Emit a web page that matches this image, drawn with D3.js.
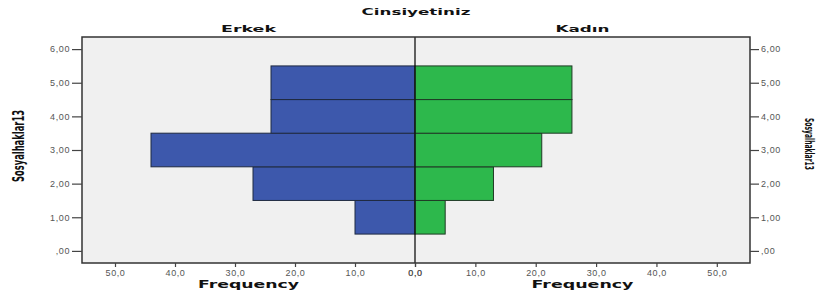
<!DOCTYPE html>
<html>
<head>
<meta charset="utf-8">
<script src="https://cdn.jsdelivr.net/npm/d3@7"></script>
<style>
  body { margin: 0; background: #fff; }
  svg { display: block; }
</style>
</head>
<body>
<div id="chart"></div>
<script>
// data
const bins = [1, 2, 3, 4, 5];
const erkek = [10, 27, 44, 24, 24];
const kadin = [5, 13, 21, 26, 26];
const yTicks = [0, 1, 2, 3, 4, 5, 6];
const xTicks = [0, 10, 20, 30, 40, 50];

const W = 817, H = 295;
const frame = { left: 82, right: 750, top: 37, bottom: 263 };
const mid = 415;

const svg = d3
  .select("#chart")
  .append("svg")
  .attr("width", W)
  .attr("height", H);

const y = d3.scaleLinear().domain([-0.36, 6.36]).range([frame.bottom, frame.top]);
const xL = d3.scaleLinear().domain([0, 55.5]).range([mid, frame.left]);
const xR = d3.scaleLinear().domain([0, 55.5]).range([mid, frame.right]);

// comma decimal, SPSS style (",00" for zero)
const fmtY = (d) => d3.format(".2f")(d).replace(".", ",").replace(/^0,/, ",");
const fmtX = (d) => d3.format(".1f")(d).replace(".", ",");

// plot background
svg
  .append("rect")
  .attr("x", frame.left)
  .attr("y", frame.top)
  .attr("width", frame.right - frame.left)
  .attr("height", frame.bottom - frame.top)
  .attr("fill", "#f0f0f0");

// bars
const barH = y(0) - y(1);
svg
  .append("g")
  .selectAll("rect")
  .data(bins)
  .join("rect")
  .attr("x", (d, i) => xL(erkek[i]))
  .attr("y", (d) => y(d + 0.5))
  .attr("width", (d, i) => xL(0) - xL(erkek[i]))
  .attr("height", barH)
  .attr("fill", "#3d58ac")
  .attr("stroke", "#1f2a40")
  .attr("stroke-width", 1);

svg
  .append("g")
  .selectAll("rect")
  .data(bins)
  .join("rect")
  .attr("x", xR(0))
  .attr("y", (d) => y(d + 0.5))
  .attr("width", (d, i) => xR(kadin[i]) - xR(0))
  .attr("height", barH)
  .attr("fill", "#2db84c")
  .attr("stroke", "#1f3a25")
  .attr("stroke-width", 1);

// center line
svg
  .append("line")
  .attr("x1", mid)
  .attr("x2", mid)
  .attr("y1", frame.top)
  .attr("y2", frame.bottom)
  .attr("stroke", "#111")
  .attr("stroke-width", 1.3);

// frame
svg
  .append("rect")
  .attr("x", frame.left)
  .attr("y", frame.top)
  .attr("width", frame.right - frame.left)
  .attr("height", frame.bottom - frame.top)
  .attr("fill", "none")
  .attr("stroke", "#333")
  .attr("stroke-width", 1.5);

const styleAxis = function (g) {
  g.select(".domain").remove();
  g.selectAll(".tick line").attr("stroke", "#444").attr("stroke-width", 1.2);
  g.selectAll(".tick text")
    .attr("fill", "#555")
    .attr("font-family", "Arial, 'Liberation Sans', sans-serif")
    .attr("font-size", 9)
    .attr("letter-spacing", 0.6);
};

// y axes
svg
  .append("g")
  .attr("transform", `translate(${frame.left},0)`)
  .call(d3.axisLeft(y).tickValues(yTicks).tickFormat(fmtY).tickSize(10).tickPadding(2))
  .call(styleAxis);

svg
  .append("g")
  .attr("transform", `translate(${frame.right},0)`)
  .call(d3.axisRight(y).tickValues(yTicks).tickFormat(fmtY).tickSize(9).tickPadding(2))
  .call(styleAxis);

// x axes
svg
  .append("g")
  .attr("transform", `translate(0,${frame.bottom})`)
  .call(d3.axisBottom(xL).tickValues(xTicks).tickFormat(fmtX).tickSize(4).tickPadding(3))
  .call(styleAxis);

svg
  .append("g")
  .attr("transform", `translate(0,${frame.bottom})`)
  .call(d3.axisBottom(xR).tickValues(xTicks).tickFormat(fmtX).tickSize(4).tickPadding(3))
  .call(styleAxis);

// titles (wide bold face: stretch glyphs to the measured width)
const boldText = function (x, yy, txt, len, size) {
  svg
    .append("text")
    .attr("x", x)
    .attr("y", yy)
    .attr("text-anchor", "middle")
    .attr("font-family", "'DejaVu Sans', sans-serif")
    .attr("font-weight", "bold")
    .attr("font-size", size)
    .attr("fill", "#111")
    .attr("textLength", len)
    .attr("lengthAdjust", "spacingAndGlyphs")
    .text(txt);
};

boldText(416, 15, "Cinsiyetiniz", 109, 9.5);
boldText((frame.left + mid) / 2, 32, "Erkek", 55, 9.5);
boldText((mid + frame.right) / 2, 32, "Kadın", 54, 9.5);
boldText((frame.left + mid) / 2, 288, "Frequency", 101, 10.5);
boldText((mid + frame.right) / 2, 288, "Frequency", 102, 10.5);

// rotated y labels (condensed, squeezed)
const yLabel = function (transform, len, size) {
  svg
    .append("text")
    .attr("transform", transform)
    .attr("text-anchor", "middle")
    .attr("font-family", "'DejaVu Sans Condensed', 'Liberation Sans Narrow', sans-serif")
    .attr("font-weight", "bold")
    .attr("font-size", size)
    .attr("fill", "#111")
    .attr("textLength", len)
    .attr("lengthAdjust", "spacingAndGlyphs")
    .text("Sosyalhaklar13");
};

yLabel("translate(24,146) rotate(-90)", 72, 15);
yLabel("translate(805,144) rotate(90)", 52, 12);
</script>
</body>
</html>
